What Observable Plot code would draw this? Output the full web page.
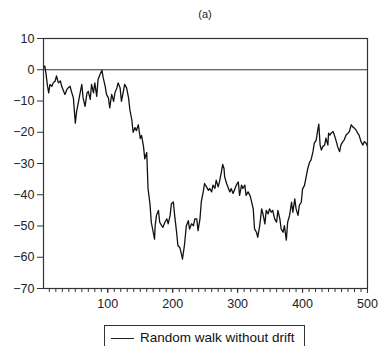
<!DOCTYPE html>
<html>
<head>
<meta charset="utf-8">
<script src="https://cdn.jsdelivr.net/npm/d3@7"></script>
<script src="https://cdn.jsdelivr.net/npm/@observablehq/plot@0.6"></script>
<style>
  body { margin: 0; background: #fff; font-family: "Liberation Sans", Arial, sans-serif; }
  #wrap { width: 379px; height: 346px; overflow: hidden; position: relative; }
  #title { height: 28px; line-height: 28px; font-size: 11px; color: #222; padding-left: 43px; width: 324px; text-align: center; }
  #legend { position: absolute; left: 104px; top: 325px; width: 199px; height: 30px; border: 1px solid #333; }
  #legend .sw { position: absolute; left: 6px; top: 12px; width: 23px; height: 0; border-top: 1.2px solid #222; }
  #legend .tx { position: absolute; left: 35px; top: 4px; font-size: 13.5px; color: #111; white-space: nowrap; }
</style>
</head>
<body>
<div id="wrap">
  <div id="title">(a)</div>
  <div id="chart"></div>
  <div id="legend"><div class="sw"></div><div class="tx">Random walk without drift</div></div>
</div>
<script>
const obs = [1,3,5,7,9,11,14,16,19,21,24,27,29,32,34,37,39,42,44,47,50,52,55,57,60,62,65,68,70,73,75,78,80,83,85,88,91,93,96,98,101,103,106,109,111,114,116,119,121,124,126,129,132,134,137,
139,142,144,147,150,152,155,157,160,162,165,167,170,172,173,175,178,180,183,185,188,191,193,196,198,201,203,206,208,211,214,215,218,220,221,224,226,229,232,234,
237,239,242,244,247,249,252,255,257,260,262,265,267,270,272,275,277,279,280,283,285,288,290,293,296,298,301,303,306,308,311,313,316,319,321,324,326,329,331,334,337,339,342,344,347,349,352,354,357,360,362,365,367,370,372,
375,377,380,383,385,388,390,393,395,398,400,403,406,408,411,413,416,418,421,423,425,427,429,431,434,436,439,440,442,444,447,449,452,454,457,459,462,464,467,470,472,475,477,480,482,485,487,490,493,495,498,500];
const walk = [0.5,1.2,-1.5,-5,-7.4,-4.7,-5.3,-4.2,-3.6,-2.0,-4.2,-3.6,-5.3,-6.9,-7.9,-6.3,-5.8,-5.3,-6.9,-9.0,-17.1,-13.3,-10.1,-7.9,-4.7,-9.0,-11.7,-7.4,-6.9,-9.5,-4.7,-7.4,-4.2,-8.5,-3.1,-1.5,-0.2,-2.6,-5.3,-7.9,-9.0,-12.2,-7.9,-10.1,-7.4,-5.8,-4.2,-5.8,-10.1,-6.9,-4.7,-5.8,-9.0,-12.8,-16,
-20,-18.5,-19.5,-17.6,-22,-21,-24.5,-28.5,-26.5,-38,-43,-48.8,-52,-54.2,-49.9,-46.6,-45,-48.8,-49.9,-50.4,-48.8,-47.7,-49.3,-46.6,-42.9,-42.3,-46.6,-52,-56.3,-56.9,-59.5,-60.6,-56.3,-52,-49.9,-48.3,-51,-49.3,-49.9,-47.7,
-47.7,-51.5,-47.7,-42.3,-39.1,-36.4,-37.5,-38.6,-38,-39.1,-36.9,-38,-35.3,-37.5,-35.9,-32.7,-30.3,-31.6,-34.3,-36.4,-37.5,-39.1,-38,-39.6,-38,-36.9,-35.9,-40.2,-36.9,-38,-36.9,-40.2,-39.1,-40.2,-41.8,-44.5,-50.9,-52,-53.6,-49.9,-44.5,-46.1,-49.3,-45,-46.1,-44.5,-45.6,-45,-47.7,-48.8,-45,-47.7,-50.9,-52,-49.9,
-54.5,-48.8,-46.6,-42.4,-45.6,-41.3,-44.5,-46.6,-43.4,-42.4,-38.1,-37,-33.7,-31.6,-29.5,-28.9,-26.2,-23.5,-22.5,-19.8,-17.4,-24.1,-25.7,-24.6,-24.1,-21.9,-24.1,-20.3,-20.9,-20.3,-19.8,-20.9,-23,-24.6,-26.2,-24.1,-23,-22.5,-20.9,-20.3,-19.8,-17.6,-18.2,-18.7,-19.2,-20.3,-20.9,-23,-24.1,-23,-23.5,-24.6];
const yTicks = [-70,-60,-50,-40,-30,-20,-10,0,10];
const xMajor = [100,200,300,400,500];
const xMinor = d3.range(10, 501, 10);

const data = obs.map((t, i) => ({t, v: walk[i]}));
const fmt = d => d < 0 ? "\u2212" + Math.abs(d) : String(d);

const chart = Plot.plot({
  width: 379,
  height: 290,
  marginTop: 10,
  marginBottom: 30,
  marginLeft: 43,
  marginRight: 12,
  style: {fontFamily: "'Liberation Sans', Arial, sans-serif", fontSize: "12.5px", color: "#222", background: "#fff"},
  x: {domain: [1, 500]},
  y: {domain: [-70, 10]},
  marks: [
    Plot.axisY({ticks: yTicks, tickSize: 6, tickPadding: 3, tickFormat: fmt, label: null, stroke: "#333"}),
    Plot.axisX({ticks: xMinor, tickSize: 4, tickFormat: () => "", label: null, stroke: "#333"}),
    Plot.axisX({ticks: xMajor, tickSize: 5, tickPadding: 6, tickFormat: fmt, label: null, stroke: "#333"}),
    Plot.ruleY([0], {stroke: "#333", strokeWidth: 1.2}),
    Plot.line(data, {x: "t", y: "v", stroke: "#111", strokeWidth: 1.3}),
    Plot.frame({stroke: "#333", strokeWidth: 1.2})
  ]
});
document.getElementById("chart").appendChild(chart);
</script>
</body>
</html>
